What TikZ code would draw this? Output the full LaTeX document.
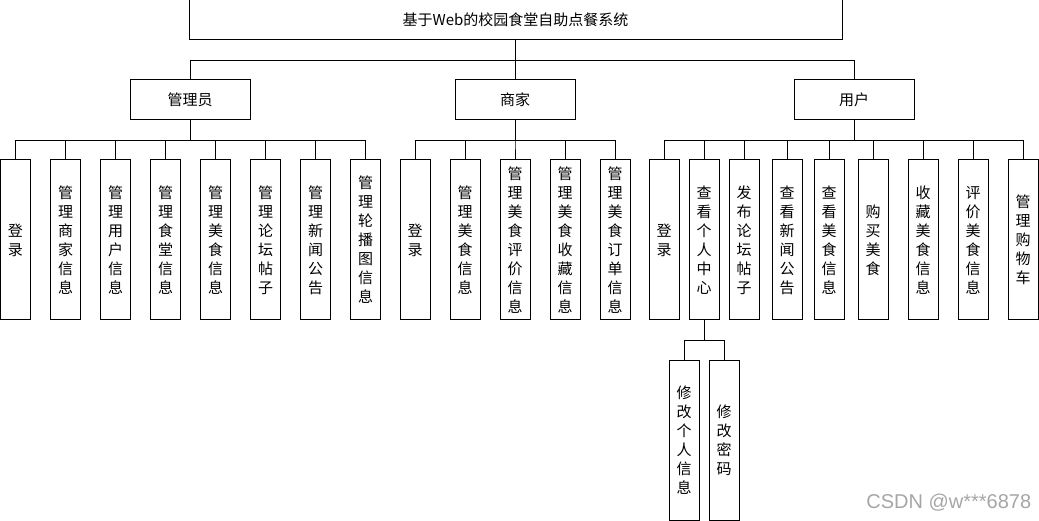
\documentclass[tikz,border=0pt]{standalone}
\usepackage{fontspec}
\setmainfont{Noto Sans CJK SC}
\newfontfamily\markfont{Liberation Sans}
\begin{document}
\begin{tikzpicture}[x=1pt,y=-1pt,line width=1pt,
    topbox/.style={draw,minimum width=120pt,minimum height=40pt,inner sep=0pt,
        font=\fontsize{15}{19}\selectfont},
    leafbox/.style={draw,minimum width=30pt,minimum height=160pt,inner sep=0pt,
        align=center,font=\fontsize{15}{19}\selectfont}]
        \useasboundingbox (0,0) rectangle (1039,521);

        % Root and the three roles
        \node[topbox,minimum width=653pt] (root) at (515.5,20) {基于Web的校园食堂自助点餐系统};
        \node[topbox] (admin) at (190,100) {管理员};
        \node[topbox] (shop) at (515,100) {商家};
        \node[topbox] (user) at (854,100) {用户};
        \foreach \r in {admin,shop,user} {
            \draw (root.south) -- ++(0,20) -| (\r.north);
        }

        % Admin functions
        \foreach \t [count=\i from 0] in {登\\录,管\\理\\商\\家\\信\\息,管\\理\\用\\户\\信\\息,
            管\\理\\食\\堂\\信\\息,管\\理\\美\\食\\信\\息,管\\理\\论\\坛\\帖\\子,
            管\\理\\新\\闻\\公\\告,管\\理\\轮\\播\\图\\信\\息} {
            \node[leafbox] (a\i) at (15.5+50*\i,240) {\t};
            \draw (admin.south) -- ++(0,20) -| (a\i.north);
        }

        % Shop functions
        \foreach \t [count=\i from 0] in {登\\录,管\\理\\美\\食\\信\\息,管\\理\\美\\食\\评\\价\\信\\息,
            管\\理\\美\\食\\收\\藏\\信\\息,管\\理\\美\\食\\订\\单\\信\\息} {
            \node[leafbox] (b\i) at (415+50*\i,240) {\t};
            \draw (shop.south) -- ++(0,20) -| (b\i.north);
        }

        % User functions
        \foreach \x/\t [count=\i] in {664/登\\录,704/查\\看\\个\\人\\中\\心,744/发\\布\\论\\坛\\帖\\子,
            787/查\\看\\新\\闻\\公\\告,829/查\\看\\美\\食\\信\\息,873/购\\买\\美\\食,
            923/收\\藏\\美\\食\\信\\息,973/评\\价\\美\\食\\信\\息,1023/管\\理\\购\\物\\车} {
            \node[leafbox] (u\i) at (\x,240) {\t};
            \draw (user.south) -- ++(0,20) -| (u\i.north);
        }

        % Personal center
        \node[leafbox] (s1) at (684,440) {修\\改\\个\\人\\信\\息};
        \node[leafbox] (s2) at (724,440) {修\\改\\密\\码};
        \draw (u2.south) -- ++(0,20) -| (s1.north);
        \draw (u2.south) -- ++(0,20) -| (s2.north);

        \node[font=\markfont\fontsize{20}{20}\selectfont,text=black!35,anchor=east] (mark)
            at (1035,503) {CSDN @w***6878};
\end{tikzpicture}
\end{document}
